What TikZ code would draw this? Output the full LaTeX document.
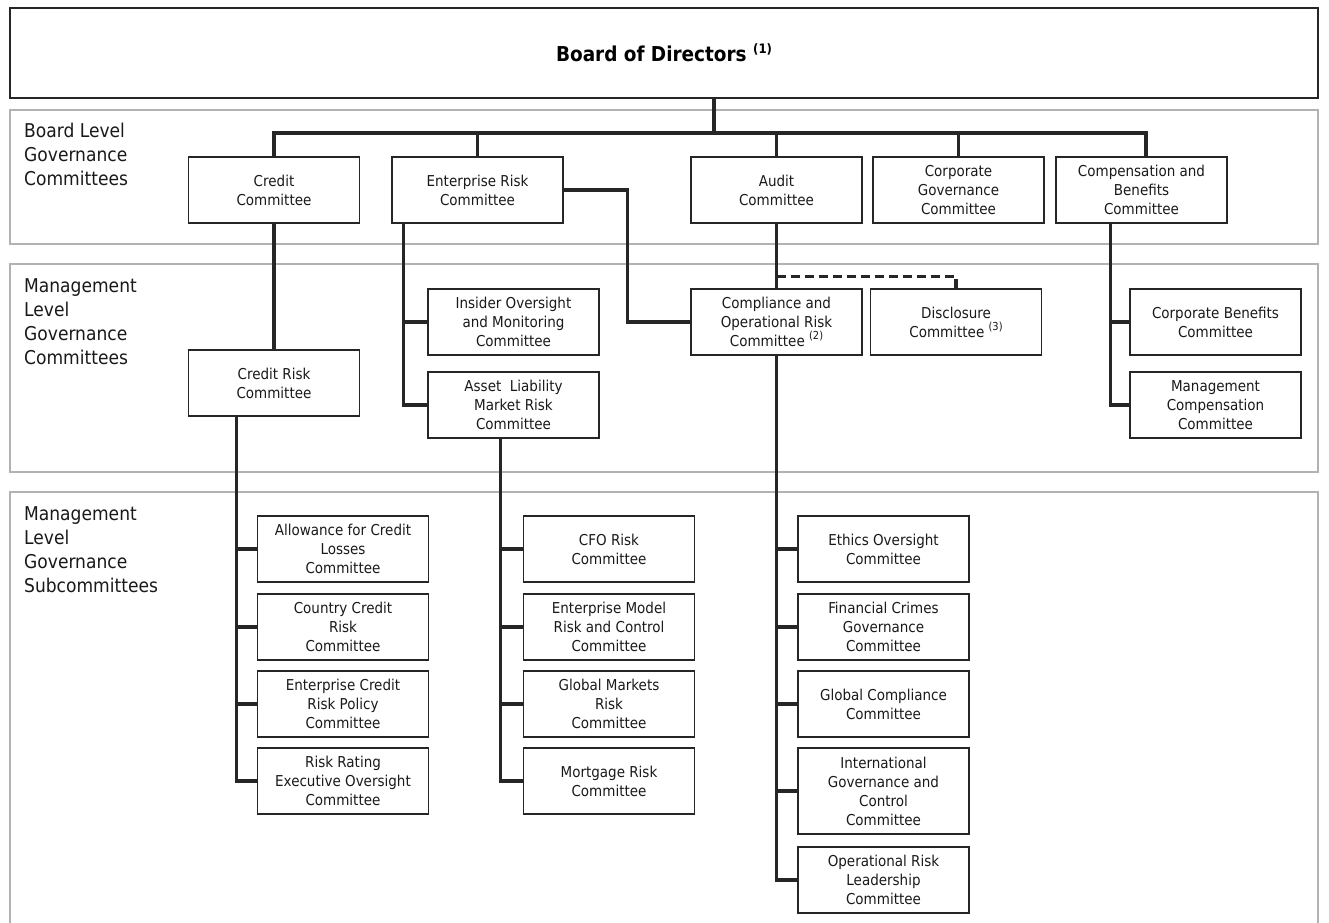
\documentclass[tikz,border=0pt]{standalone}
\usepackage{fontspec}
\setmainfont{DejaVu Sans Condensed}
\usetikzlibrary{calc}
\newcommand\boxfont{\fontsize{15}{19}\selectfont}
\newcommand\lblfont{\fontsize{19}{24}\selectfont}
\newcommand\supr[1]{\raisebox{0.45em}{\fontsize{11}{11}\selectfont #1}}
\begin{document}
\begin{tikzpicture}[x=1pt,y=-1pt,
  box/.style={draw=black!85, line width=1.4pt, minimum width=171pt, minimum height=66pt, inner sep=2pt, align=center, font=\boxfont, text=black!90},
  tallbox/.style={box, minimum height=86pt},
  conn/.style={line width=3.2pt, draw=black!85},
  dashconn/.style={conn, dash pattern=on 9pt off 5pt},
  band/.style={draw=black!30, line width=1.5pt},
  lvl/.style={anchor=north west, align=left, font=\lblfont, inner sep=0pt, text=black!90}]
\useasboundingbox (0,0) rectangle (1329,922);
% bands
\draw[band] (10,110) rectangle (1318,244);
\draw[band] (10,264) rectangle (1318,472);
\draw[band] (10,492) rectangle (1318,940);
% level labels
\node[lvl] (l1) at (24,123) {Board Level\\Governance\\Committees};
\node[lvl] (l2) at (24,278) {Management\\Level\\Governance\\Committees};
\node[lvl] (l3) at (24,506) {Management\\Level\\Governance\\Subcommittees};
% board
\node[draw=black!85, line width=1.4pt, minimum width=1308pt, minimum height=90pt, font=\fontsize{20.5}{22}\selectfont\bfseries] (board) at (664,53) {Board of Directors \raisebox{0.4em}{\fontsize{13}{13}\selectfont\bfseries(1)}};
% level 1
\node[box] (credit) at (274,190) {Credit\\Committee};
\node[box] (erc) at (477.5,190) {Enterprise Risk\\Committee};
\node[box] (audit) at (776.5,190) {Audit\\Committee};
\node[box] (corpgov) at (958.5,190) {Corporate\\Governance\\Committee};
\node[box] (comp) at (1141.5,190) {Compensation and\\Benefits\\Committee};
% level 2
\node[box] (creditrisk) at (274,383) {Credit Risk\\Committee};
\node[box] (insider) at (513.5,322) {Insider Oversight\\and Monitoring\\Committee};
\node[box] (asset) at (513.5,405) {Asset\ \ Liability\\Market Risk\\Committee};
\node[box] (compl) at (776.5,322) {Compliance and\\Operational Risk\\Committee \supr{(2)}};
\node[box] (discl) at (956,322) {Disclosure\\Committee \supr{(3)}};
\node[box] (corpben) at (1215.5,322) {Corporate Benefits\\Committee};
\node[box] (mgmtcomp) at (1215.5,405) {Management\\Compensation\\Committee};
% level 3
\node[box] (allow) at (343,549) {Allowance for Credit\\Losses\\Committee};
\node[box] (country) at (343,627) {Country Credit\\Risk\\Committee};
\node[box] (ecrp) at (343,704) {Enterprise Credit\\Risk Policy\\Committee};
\node[box] (rr) at (343,781) {Risk Rating\\Executive Oversight\\Committee};
\node[box] (cfo) at (609,549) {CFO Risk\\Committee};
\node[box] (emrc) at (609,627) {Enterprise Model\\Risk and Control\\Committee};
\node[box] (gm) at (609,704) {Global Markets\\Risk\\Committee};
\node[box] (mort) at (609,781) {Mortgage Risk\\Committee};
\node[box] (ethics) at (883.5,549) {Ethics Oversight\\Committee};
\node[box] (fc) at (883.5,627) {Financial Crimes\\Governance\\Committee};
\node[box] (gc) at (883.5,704) {Global Compliance\\Committee};
\node[tallbox] (igc) at (883.5,791) {International\\Governance and\\Control\\Committee};
\node[box] (orl) at (883.5,880) {Operational Risk\\Leadership\\Committee};
% connectors: board to level 1
\coordinate (bj) at (714,133);
\draw[conn] (board.south -| bj) -- (bj);
\draw[conn] (credit.north) -- (credit.north |- bj) -- ([xshift=4.5pt]comp.north |- bj) -- ([xshift=4.5pt]comp.north);
\foreach \n in {erc,audit,corpgov} \draw[conn] (\n.north) -- (\n.north |- bj);
% credit
\draw[conn] (credit.south) -- (creditrisk.north);
\coordinate (crd) at ([xshift=49pt]creditrisk.south west);
\draw[conn] (crd) |- (rr.west);
\foreach \n in {allow,country,ecrp} \draw[conn] (\n.west) -- (\n.west -| crd);
% enterprise risk
\draw[conn] (erc.east) -- ++(64,0) |- (compl.west);
\coordinate (ercd) at ([xshift=12pt]erc.south west);
\draw[conn] (ercd) |- (asset.west);
\draw[conn] (insider.west) -- (insider.west -| ercd);
\coordinate (ald) at ([xshift=73pt]asset.south west);
\draw[conn] (ald) |- (mort.west);
\foreach \n in {cfo,emrc,gm} \draw[conn] (\n.west) -- (\n.west -| ald);
% audit
\draw[conn] (audit.south) -- (compl.north);
\draw[dashconn] ([yshift=12pt]compl.north) -| (discl.north);
\draw[conn] (compl.south) |- (orl.west);
\foreach \n in {ethics,fc,gc,igc} \draw[conn] (\n.west) -- (\n.west -| compl.south);
% compensation
\coordinate (compd) at ([xshift=55pt]comp.south west);
\draw[conn] (compd) |- (mgmtcomp.west);
\draw[conn] (corpben.west) -- (corpben.west -| compd);
\end{tikzpicture}
\end{document}
